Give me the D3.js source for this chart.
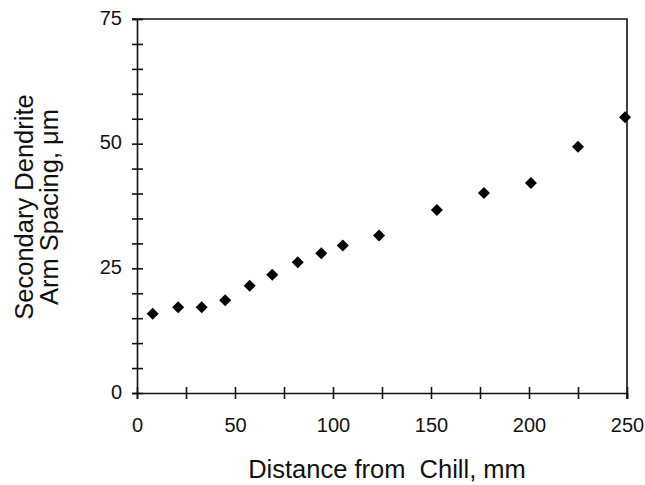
<!DOCTYPE html>
<html>
<head>
<meta charset="utf-8">
<script src="https://cdn.jsdelivr.net/npm/d3@7"></script>
<style>
  body { margin: 0; background: #fff; }
  svg text { font-family: "Liberation Sans", Arial, sans-serif; fill: #111; }
</style>
</head>
<body>
<div class="js-chart"></div>
<script>
// distance from chill (mm) and secondary dendrite arm spacing (um)
const distance = [8, 21, 33, 45, 57.5, 69, 82, 94, 105, 123.5, 153, 177, 201, 225, 249];
const spacing = [15.9, 17.2, 17.2, 18.6, 21.5, 23.7, 26.2, 28.0, 29.6, 31.6, 36.7, 40.1, 42.1, 49.4, 55.3];

const xTicks = [0, 25, 50, 75, 100, 125, 150, 175, 200, 225, 250];
const xLabels = [0, 50, 100, 150, 200, 250];
const yTicks = d3.range(0, 76, 5);
const yLabels = [0, 25, 50, 75];

const width = 645, height = 485;
const plotLeft = 137, plotRight = 627, plotTop = 19, plotBottom = 393;

const svg = d3.select('.js-chart').append('svg')
  .attr('width', width).attr('height', height);

const x = d3.scaleLinear().domain([0, 250]).range([plotLeft, plotRight]);
const y = d3.scaleLinear().domain([0, 75]).range([plotBottom, plotTop]);

// frame: top and right edges
svg.append('path')
  .attr('d', 'M' + (plotLeft - 5) + ',' + plotTop + 'H' + plotRight + 'V' + (plotBottom + 6))
  .attr('fill', 'none').attr('stroke', '#111').attr('stroke-width', 1.6);

// y axis, ticks crossing the line
const yAxis = svg.append('g')
  .attr('transform', 'translate(' + plotLeft + ',0)')
  .call(d3.axisLeft(y).tickValues(yTicks).tickSize(5)
    .tickFormat(d => yLabels.includes(d) ? d : ''));
yAxis.select('.domain').attr('stroke', '#111').attr('stroke-width', 1.6);
yAxis.selectAll('.tick line').attr('x1', 6).attr('x2', -5)
  .attr('stroke', '#111').attr('stroke-width', 1.6);
yAxis.selectAll('.tick text').attr('x', -15).attr('dy', '0.25em')
  .style('font-size', '20px');

// x axis
const xAxis = svg.append('g')
  .attr('transform', 'translate(0,' + plotBottom + ')')
  .call(d3.axisBottom(x).tickValues(xTicks).tickSize(6)
    .tickFormat(d => xLabels.includes(d) ? d : ''));
xAxis.select('.domain').attr('stroke', '#111').attr('stroke-width', 1.6);
xAxis.selectAll('.tick line').attr('y1', -6).attr('y2', 6)
  .attr('stroke', '#111').attr('stroke-width', 1.6);
xAxis.selectAll('.tick text').attr('y', 25).attr('dy', '0.71em')
  .style('font-size', '20px');

// markers
svg.append('g').selectAll('path').data(distance).enter().append('path')
  .attr('d', d3.symbol().type(d3.symbolSquare).size(72))
  .attr('transform', (d, i) => 'translate(' + x(d) + ',' + y(spacing[i]) + ') rotate(45)')
  .attr('fill', '#000');

// axis titles
svg.append('text')
  .attr('x', 387).attr('y', 478)
  .attr('text-anchor', 'middle')
  .style('font-size', '25.5px').style('white-space', 'pre')
  .text('Distance from  Chill, mm');

const yTitle = svg.append('text')
  .attr('transform', 'translate(33,' + ((plotTop + plotBottom) / 2 + 1) + ') rotate(-90)')
  .attr('text-anchor', 'middle')
  .style('font-size', '25.5px');
yTitle.append('tspan').attr('x', 0).attr('y', 0).text('Secondary Dendrite');
yTitle.append('tspan').attr('x', 0).attr('y', 25).text('Arm Spacing, \u03bcm');
</script>
</body>
</html>
